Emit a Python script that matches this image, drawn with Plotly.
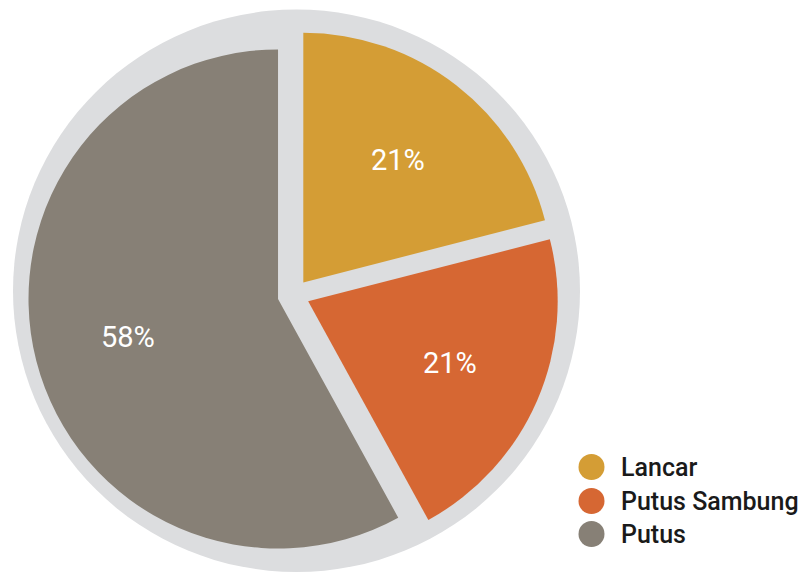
import math
import plotly.graph_objects as go

# Status shares
labels = ["Lancar", "Putus Sambung", "Putus"]
values = [21, 21, 58]
colors = ["#D49D35", "#D66733", "#878076"]
ring_color = "#DCDDDF"

W, H = 803, 575

def px_x(x):
    return x / W

def px_y(y):
    return 1 - y / H

# pie geometry in pixels
pie_cx, pie_cy = 293.5, 295.0
pull = 0.064
half_box = 265.5
radius = half_box / (1 + pull)

fig = go.Figure()

fig.add_trace(go.Pie(
    labels=labels,
    values=values,
    sort=False,
    direction="clockwise",
    rotation=0,
    pull=[pull] * len(values),
    marker=dict(colors=colors, line=dict(width=0)),
    textinfo="none",
    showlegend=False,
    hoverinfo="label+percent",
    domain=dict(x=[px_x(pie_cx - half_box), px_x(pie_cx + half_box)],
                y=[px_y(pie_cy + half_box), px_y(pie_cy - half_box)]),
))

shapes = [
    # light grey disc behind the pie
    dict(type="circle", xref="paper", yref="paper", layer="below",
         x0=px_x(13), x1=px_x(580), y0=px_y(572), y1=px_y(9.5),
         fillcolor=ring_color, line=dict(width=0)),
]

annotations = []

# percentage labels along each slice bisector
total = sum(values)
cum = 0.0
for v in values:
    mid = (cum + v / 2) / total * 2 * math.pi
    cum += v
    dist = radius * (pull + 0.62)
    lx = pie_cx + dist * math.sin(mid)
    ly = pie_cy - dist * math.cos(mid)
    annotations.append(dict(text=f"{round(v / total * 100)}%", xref="paper", yref="paper",
                            x=px_x(lx), y=px_y(ly), xanchor="center", yanchor="middle",
                            showarrow=False,
                            font=dict(family="Roboto", size=29, color="white")))

# legend: coloured dots with labels
legend_y = [467, 501, 534]
dot_cx, dot_r = 591.5, 13
for lab, col, y in zip(labels, colors, legend_y):
    shapes.append(dict(type="circle", xref="paper", yref="paper",
                       x0=px_x(dot_cx - dot_r), x1=px_x(dot_cx + dot_r),
                       y0=px_y(y + dot_r), y1=px_y(y - dot_r),
                       fillcolor=col, line=dict(width=0)))
    annotations.append(dict(text=lab, xref="paper", yref="paper",
                            x=px_x(619), y=px_y(y), xanchor="left", yanchor="middle",
                            showarrow=False,
                            font=dict(family="Roboto", size=25, color="#1A1A1A",
                                      weight=500)))

fig.update_layout(
    width=W, height=H,
    margin=dict(l=0, r=0, t=0, b=0),
    paper_bgcolor="white",
    plot_bgcolor="white",
    shapes=shapes,
    annotations=annotations,
)

fig.write_html("out.html")
